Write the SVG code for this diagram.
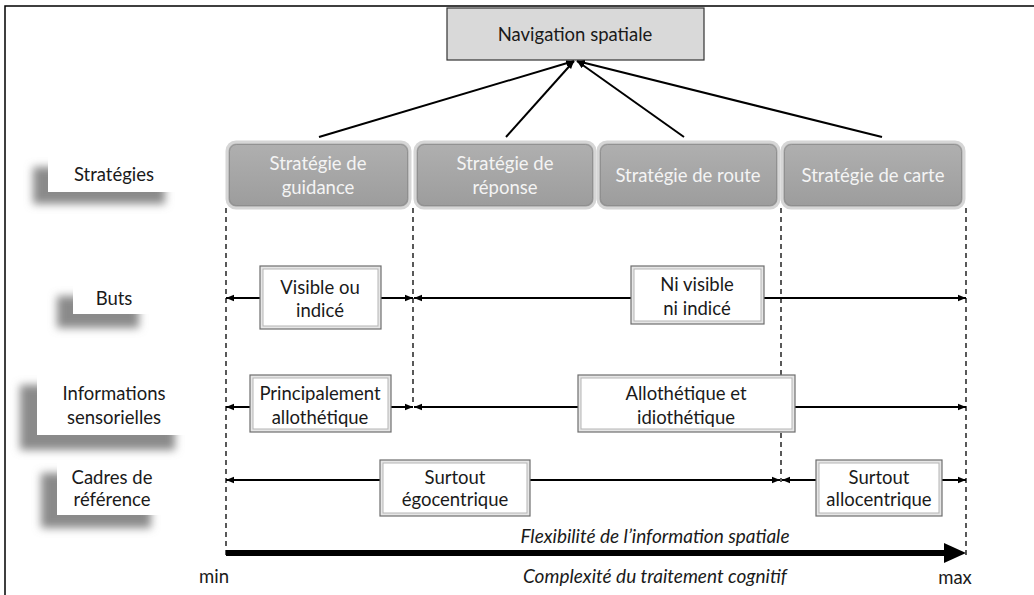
<svg xmlns="http://www.w3.org/2000/svg" width="1034" height="595" viewBox="0 0 1034 595">
<style>
text{font-family:Lato,"Open Sans","Liberation Sans",sans-serif;font-size:18.5px;text-anchor:middle;dominant-baseline:central;fill:#1a1a1a}
.st text{fill:#f4f4f4}
.it{font-style:italic;font-size:19px}
.con{stroke:#000;stroke-width:2;fill:none}
.dash{stroke:#000;stroke-width:1.3;stroke-dasharray:5,4;fill:none}
.shadow{fill:#8a8a8a;filter:url(#blur)}
</style>
<defs>
<filter id="blur" x="-30%" y="-50%" width="160%" height="200%"><feGaussianBlur stdDeviation="4.5"/></filter>
<marker id="ah" viewBox="0 0 10 10" refX="10" refY="5" markerWidth="4" markerHeight="4" orient="auto-start-reverse" markerUnits="strokeWidth"><path d="M0,1 L10,5 L0,9 z" fill="#000"/></marker>
<linearGradient id="sg" x1="0" y1="0" x2="0" y2="1"><stop offset="0" stop-color="#b0b0b0"/><stop offset="1" stop-color="#9c9c9c"/></linearGradient>
</defs>
<rect width="1034" height="595" fill="#fff"/>
<path d="M5,595 V6 H1034" stroke="#000" stroke-width="1.5" fill="none"/>

<g id="dashes">
<path class="dash" d="M226,208 V556"/>
<path class="dash" d="M413,208 V406"/>
<path class="dash" d="M781,208 V482"/>
<path class="dash" d="M966,208 V556"/>
</g>

<g id="connectors">
<path class="con" d="M319,137 L574,61" marker-end="url(#ah)"/>
<path class="con" d="M506,137 L574,61" marker-end="url(#ah)"/>
<path class="con" d="M684,137 L577,61" marker-end="url(#ah)"/>
<path class="con" d="M882,137 L577,61" marker-end="url(#ah)"/>
<path class="con" d="M260,298 H226" marker-end="url(#ah)"/>
<path class="con" d="M381,298 H413" marker-end="url(#ah)"/>
<path class="con" d="M631,298 H414" marker-end="url(#ah)"/>
<path class="con" d="M764,298 H966" marker-end="url(#ah)"/>
<path class="con" d="M250,407 H226" marker-end="url(#ah)"/>
<path class="con" d="M391,407 H413" marker-end="url(#ah)"/>
<path class="con" d="M578,407 H414" marker-end="url(#ah)"/>
<path class="con" d="M795,407 H966" marker-end="url(#ah)"/>
<path class="con" d="M380,480 H226" marker-end="url(#ah)"/>
<path class="con" d="M530,480 H780" marker-end="url(#ah)"/>
<path class="con" d="M816,480 H782" marker-end="url(#ah)"/>
<path class="con" d="M942,480 H966" marker-end="url(#ah)"/>
<path d="M226,553 H946" stroke="#000" stroke-width="6"/>
<path d="M944,543 L966,553 L944,563 z" fill="#000"/>
</g>

<g id="nav">
<rect x="447" y="8" width="257" height="52" fill="#d9d9d9" stroke="#333" stroke-width="1.2"/>
<text x="575" y="34">Navigation spatiale</text>
</g>

<g id="strategies-label">
<rect class="shadow" x="33" y="167" width="132" height="37"/>
<rect x="48" y="155" width="132" height="37" fill="#fff"/>
<text x="114" y="174">Stratégies</text>
</g>
<g id="buts-label">
<rect class="shadow" x="57" y="296" width="82" height="32"/>
<rect x="73" y="282" width="82" height="32" fill="#fff"/>
<text x="114" y="298">Buts</text>
</g>
<g id="info-label">
<rect class="shadow" x="20" y="385" width="155" height="65"/>
<rect x="37" y="370" width="155" height="65" fill="#fff"/>
<text x="114" y="393">Informations</text>
<text x="114" y="417">sensorielles</text>
</g>
<g id="cadres-label">
<rect class="shadow" x="41" y="473" width="110" height="55"/>
<rect x="57" y="460" width="110" height="55" fill="#fff"/>
<text x="112" y="477">Cadres de</text>
<text x="112" y="499">référence</text>
</g>

<g class="st" id="s-guidance">
<rect x="227" y="142" width="183" height="66" rx="9" fill="url(#sg)" stroke="#d6d6d6" stroke-width="3"/>
<rect x="229.5" y="144.5" width="178" height="61" rx="7" fill="none" stroke="#8a8a8a" stroke-width="0.8"/>
<text x="318" y="163">Stratégie de</text>
<text x="318" y="187">guidance</text>
</g>
<g class="st" id="s-reponse">
<rect x="415" y="142" width="180" height="66" rx="9" fill="url(#sg)" stroke="#d6d6d6" stroke-width="3"/>
<rect x="417.5" y="144.5" width="175" height="61" rx="7" fill="none" stroke="#8a8a8a" stroke-width="0.8"/>
<text x="505" y="163">Stratégie de</text>
<text x="505" y="187">réponse</text>
</g>
<g class="st" id="s-route">
<rect x="598" y="142" width="181" height="66" rx="9" fill="url(#sg)" stroke="#d6d6d6" stroke-width="3"/>
<rect x="600.5" y="144.5" width="176" height="61" rx="7" fill="none" stroke="#8a8a8a" stroke-width="0.8"/>
<text x="688" y="175">Stratégie de route</text>
</g>
<g class="st" id="s-carte">
<rect x="782" y="142" width="182" height="66" rx="9" fill="url(#sg)" stroke="#d6d6d6" stroke-width="3"/>
<rect x="784.5" y="144.5" width="177" height="61" rx="7" fill="none" stroke="#8a8a8a" stroke-width="0.8"/>
<text x="873" y="175">Stratégie de carte</text>
</g>

<g id="b-visible">
<rect x="260" y="266" width="121" height="63" fill="#e6e6e6" stroke="#6e6e6e" stroke-width="1.2"/>
<rect x="263" y="269" width="115" height="57" fill="#fff" stroke="#b5b5b5"/>
<text x="320" y="287">Visible ou</text>
<text x="320" y="310">indicé</text>
</g>
<g id="b-nivisible">
<rect x="631" y="266" width="133" height="58" fill="#e6e6e6" stroke="#6e6e6e" stroke-width="1.2"/>
<rect x="634" y="269" width="127" height="52" fill="#fff" stroke="#b5b5b5"/>
<text x="697" y="284">Ni visible</text>
<text x="697" y="308">ni indicé</text>
</g>
<g id="i-principalement">
<rect x="250" y="375" width="141" height="57" fill="#e6e6e6" stroke="#6e6e6e" stroke-width="1.2"/>
<rect x="253" y="378" width="135" height="51" fill="#fff" stroke="#b5b5b5"/>
<text x="320" y="393">Principalement</text>
<text x="320" y="417">allothétique</text>
</g>
<g id="i-allo">
<rect x="578" y="375" width="217" height="57" fill="#e6e6e6" stroke="#6e6e6e" stroke-width="1.2"/>
<rect x="581" y="378" width="211" height="51" fill="#fff" stroke="#b5b5b5"/>
<text x="686" y="393">Allothétique et</text>
<text x="686" y="417">idiothétique</text>
</g>
<g id="c-ego">
<rect x="380" y="460" width="150" height="56" fill="#e6e6e6" stroke="#6e6e6e" stroke-width="1.2"/>
<rect x="383" y="463" width="144" height="50" fill="#fff" stroke="#b5b5b5"/>
<text x="455" y="477">Surtout</text>
<text x="455" y="499">égocentrique</text>
</g>
<g id="c-allo">
<rect x="816" y="460" width="126" height="56" fill="#e6e6e6" stroke="#6e6e6e" stroke-width="1.2"/>
<rect x="819" y="463" width="120" height="50" fill="#fff" stroke="#b5b5b5"/>
<text x="879" y="477">Surtout</text>
<text x="879" y="499">allocentrique</text>
</g>

<g id="axis-labels">
<text class="it" x="655" y="535">Flexibilité de l’information spatiale</text>
<text class="it" x="655" y="575">Complexité du traitement cognitif</text>
<text x="214" y="576">min</text>
<text x="955" y="577">max</text>
</g>
</svg>
